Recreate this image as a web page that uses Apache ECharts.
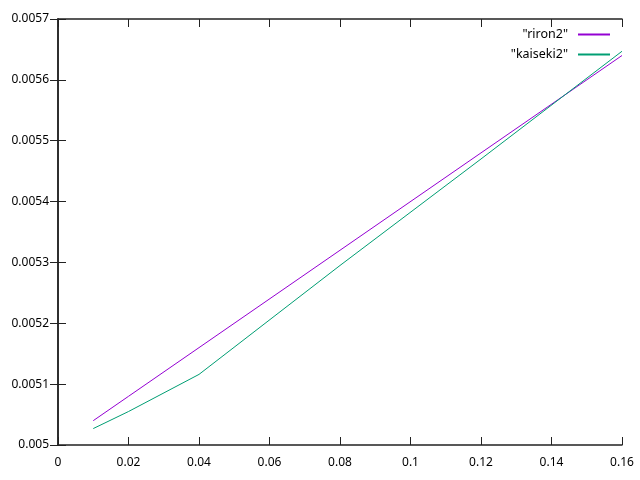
<!DOCTYPE html>
<html>
<head>
<meta charset="utf-8">
<script src="https://cdn.jsdelivr.net/npm/echarts@6/dist/echarts.min.js"></script>
<style>html,body{margin:0;padding:0;background:#fff;}#c{width:640px;height:480px;}</style>
</head>
<body>
<div id="c"></div>
<script>
var rironX = [0.01, 0.02, 0.04, 0.08, 0.12, 0.16];
var rironY = [0.00504, 0.00508, 0.00516, 0.00532, 0.00548, 0.00564];
var kaisekiX = [0.01, 0.02, 0.04, 0.08, 0.12, 0.16];
var kaisekiY = [0.005027, 0.005055, 0.005116, 0.005295, 0.005470, 0.005647];
var seriesNames = ['"riron2"', '"kaiseki2"'];
var xMin = 0, xMax = 0.16, xStep = 0.02;
var yMin = 0.005, yMax = 0.0057, yStep = 0.0001;

function pairs(xs, ys) { return xs.map(function (x, i) { return [x, ys[i]]; }); }
function fmt(v) { return String(parseFloat(v.toFixed(6))); }

var font = { fontFamily: 'Noto Sans', fontSize: 12, color: '#000' };
var axisLine = { show: true, lineStyle: { color: '#222', width: 1.5 } };
var tick = { show: true, inside: true, length: 8, lineStyle: { color: '#222', width: 1 } };

var chart = echarts.init(document.getElementById('c'), null, { renderer: 'canvas' });
chart.setOption({
  animation: false,
  backgroundColor: '#fff',
  grid: { left: 58, right: 18, top: 19, bottom: 35, containLabel: false },
  legend: {
    orient: 'vertical', right: 30, top: 28, align: 'right', padding: 0,
    itemWidth: 32, itemHeight: 2, itemGap: 7,
    icon: 'rect',
    textStyle: { fontFamily: 'Noto Sans', fontSize: 12.5, color: '#000', padding: [0, 5, 0, 0] },
    data: seriesNames
  },
  xAxis: [
    { type: 'value', min: xMin, max: xMax, interval: xStep, position: 'bottom',
      axisLine: axisLine, axisTick: tick, splitLine: { show: false },
      axisLabel: Object.assign({ margin: 12, formatter: fmt }, font) },
    { type: 'value', min: xMin, max: xMax, interval: xStep, position: 'top',
      axisLine: axisLine, axisTick: tick, splitLine: { show: false },
      axisLabel: { show: false } }
  ],
  yAxis: [
    { type: 'value', min: yMin, max: yMax, interval: yStep, position: 'left',
      axisLine: axisLine, axisTick: tick, splitLine: { show: false },
      axisLabel: Object.assign({ margin: 9, formatter: fmt }, font) },
    { type: 'value', min: yMin, max: yMax, interval: yStep, position: 'right',
      axisLine: axisLine, axisTick: tick, splitLine: { show: false },
      axisLabel: { show: false } }
  ],
  series: [
    { name: seriesNames[0], type: 'line', data: pairs(rironX, rironY),
      showSymbol: false, symbol: 'none', lineStyle: { color: '#9400d3', width: 1 },
      itemStyle: { color: '#9400d3' } },
    { name: seriesNames[1], type: 'line', data: pairs(kaisekiX, kaisekiY),
      showSymbol: false, symbol: 'none', lineStyle: { color: '#009e73', width: 1 },
      itemStyle: { color: '#009e73' } }
  ]
});
</script>
</body>
</html>
